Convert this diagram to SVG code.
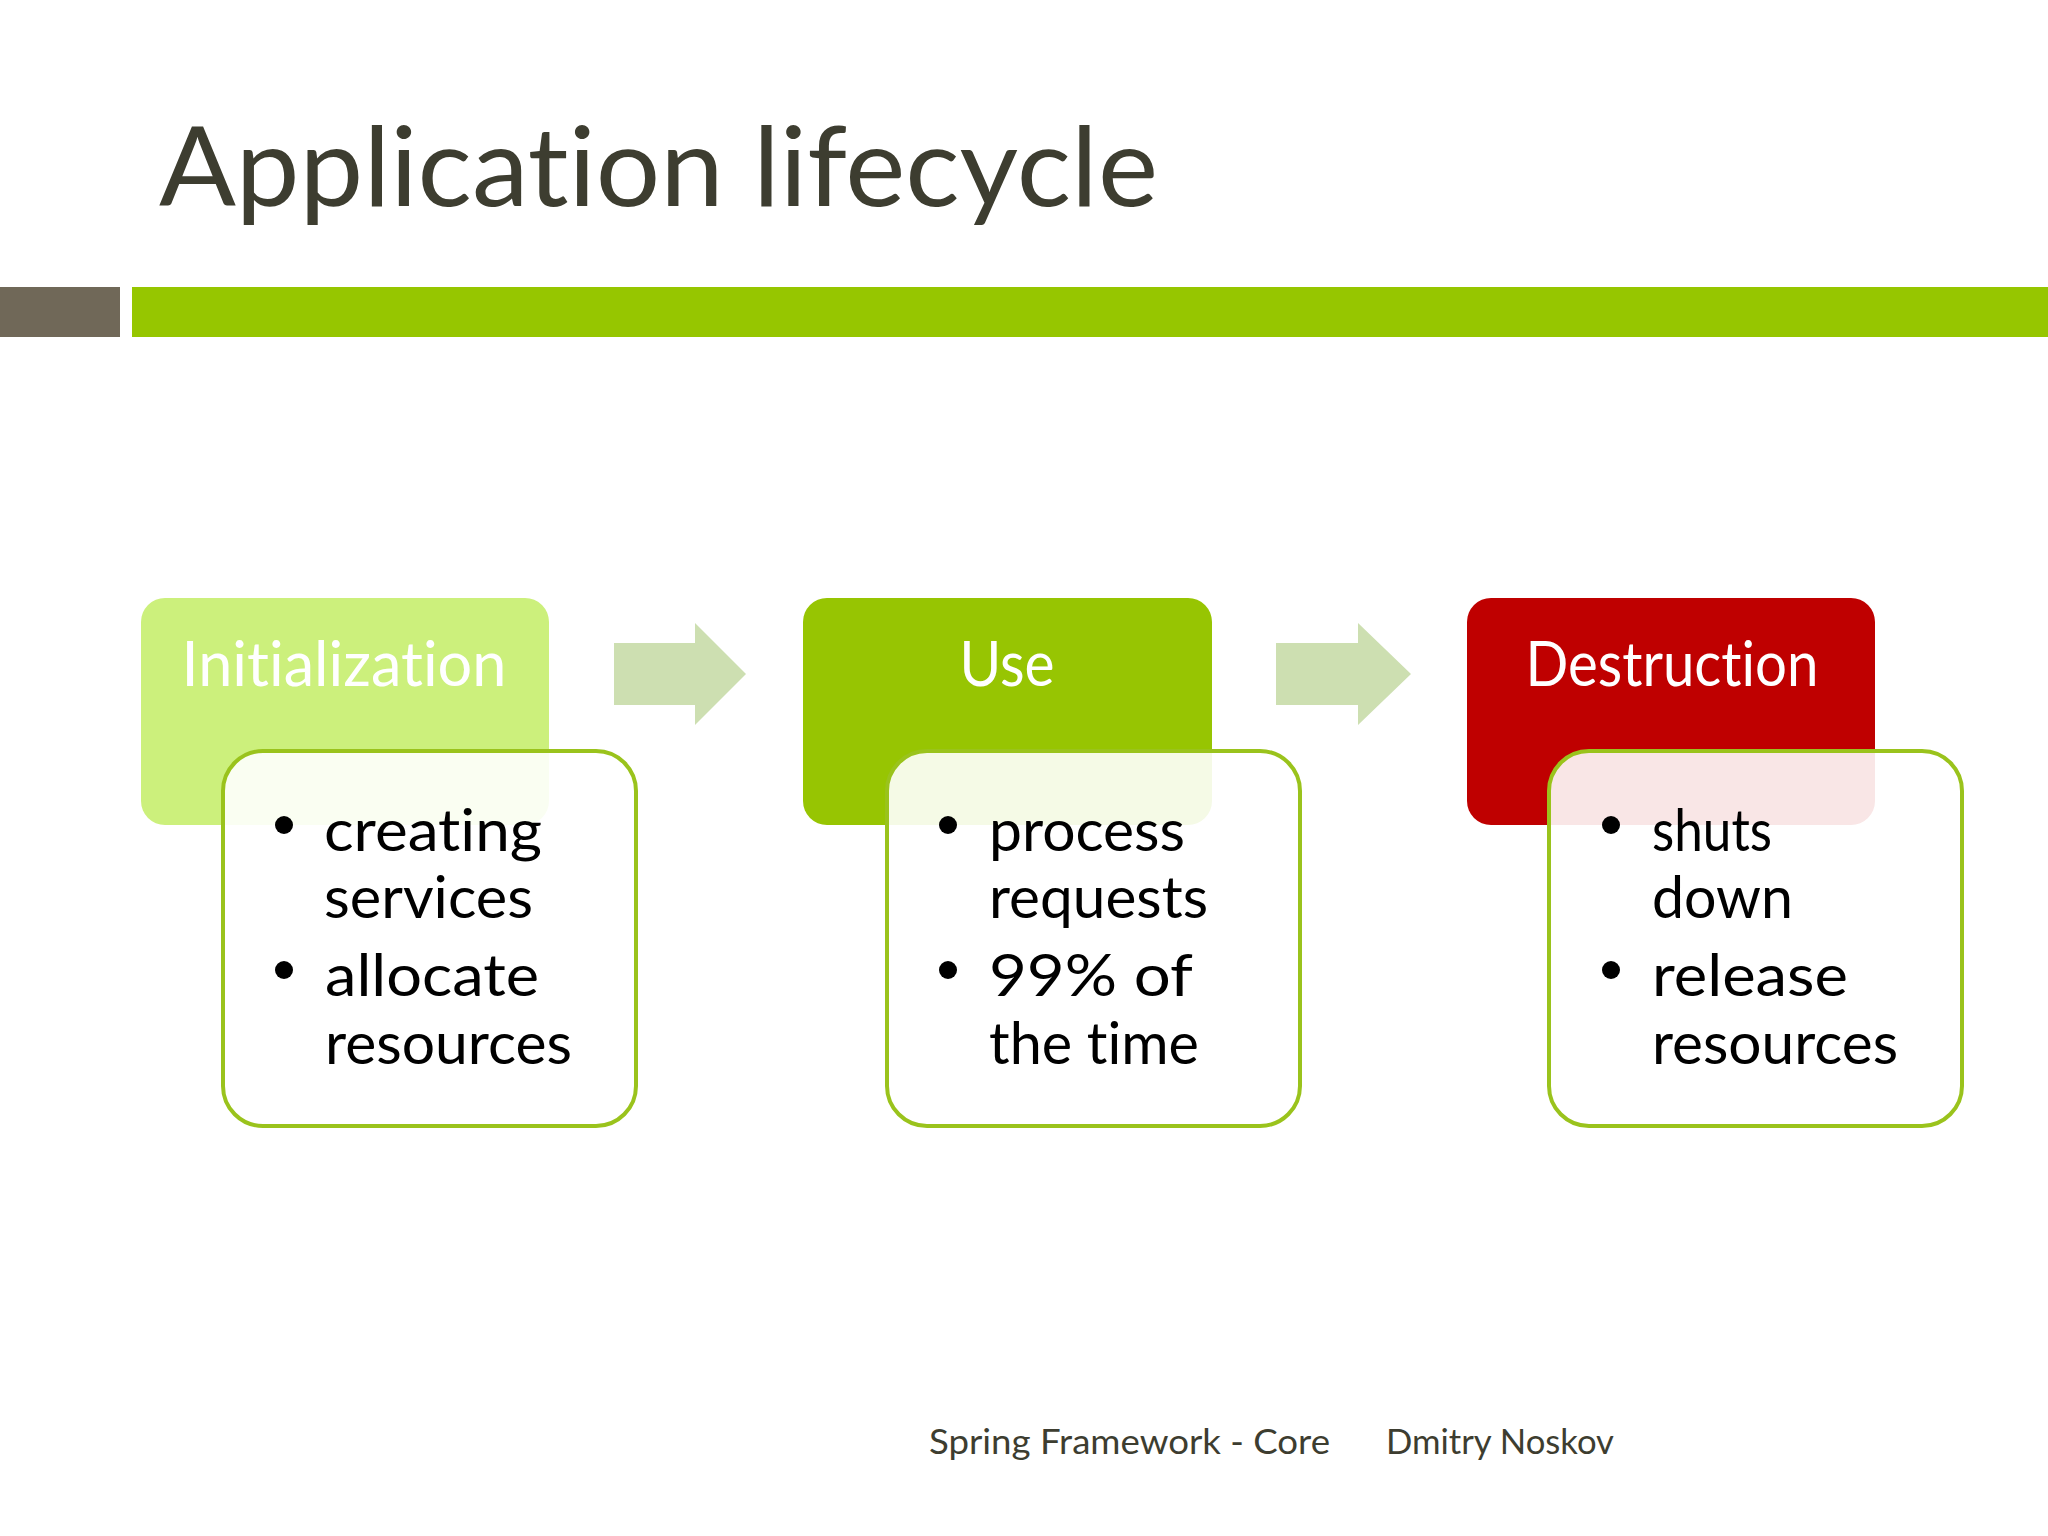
<svg xmlns="http://www.w3.org/2000/svg" width="2048" height="1536" viewBox="0 0 2048 1536">
<defs>
<style>
.t{font-family:Lato,"Noto Sans","Liberation Sans",sans-serif;font-variant-ligatures:none;font-feature-settings:"liga" 0,"clig" 0}
.title{font-size:110px;fill:#3d3d30}
.hdr{font-size:62px;fill:#ffffff;text-anchor:middle}
.bul{font-size:58px;fill:#000000}
.foot{font-size:35px;fill:#3d3d30}
.card{fill:#ffffff;fill-opacity:0.9;stroke:#9ac31c;stroke-width:4}
.arrow{fill:#cddfb1}
.dot{fill:#000000}
</style>
</defs>
<rect x="0" y="0" width="2048" height="1536" fill="#ffffff"/>
<g id="title">
<text class="t title" x="159" y="206" textLength="999" lengthAdjust="spacingAndGlyphs">Application lifecycle</text>
</g>
<g id="bars">
<rect x="0" y="287" width="120" height="50" fill="#706858"/>
<rect x="132" y="287" width="1916" height="50" fill="#96c600"/>
</g>
<g id="connectors">
<polygon class="arrow" points="614,643 695,643 695,623 746,674 695,725 695,705 614,705"/>
<polygon class="arrow" points="1276,643 1358,643 1358,623 1411,674 1358,725 1358,705 1276,705"/>
</g>
<g id="node-initialization">
<rect x="141" y="598" width="408" height="227" rx="24" fill="#ccf07c"/>
<text class="t hdr" x="344" y="686" textLength="325" lengthAdjust="spacingAndGlyphs">Initialization</text>
<rect class="card" x="223" y="751" width="413" height="375" rx="40"/>
<circle class="dot" cx="284" cy="825" r="9"/>
<text class="t bul" x="324" y="851" textLength="218" lengthAdjust="spacingAndGlyphs">creating</text>
<text class="t bul" x="324" y="918" textLength="209" lengthAdjust="spacingAndGlyphs">services</text>
<circle class="dot" cx="284" cy="970" r="9"/>
<text class="t bul" x="325" y="996" textLength="214" lengthAdjust="spacingAndGlyphs">allocate</text>
<text class="t bul" x="325" y="1064" textLength="247" lengthAdjust="spacingAndGlyphs">resources</text>
</g>
<g id="node-use">
<rect x="803" y="598" width="409" height="227" rx="24" fill="#97c502"/>
<text class="t hdr" x="1007" y="686" textLength="95" lengthAdjust="spacingAndGlyphs">Use</text>
<rect class="card" x="887" y="751" width="413" height="375" rx="40"/>
<circle class="dot" cx="948" cy="825" r="9"/>
<text class="t bul" x="989" y="851" textLength="196" lengthAdjust="spacingAndGlyphs">process</text>
<text class="t bul" x="989" y="918" textLength="219" lengthAdjust="spacingAndGlyphs">requests</text>
<circle class="dot" cx="948" cy="970" r="9"/>
<text class="t bul" x="989" y="996" textLength="204" lengthAdjust="spacingAndGlyphs">99% of</text>
<text class="t bul" x="989" y="1064" textLength="210" lengthAdjust="spacingAndGlyphs">the time</text>
</g>
<g id="node-destruction">
<rect x="1467" y="598" width="408" height="227" rx="24" fill="#bf0000"/>
<text class="t hdr" x="1672" y="686" textLength="293" lengthAdjust="spacingAndGlyphs">Destruction</text>
<rect class="card" x="1549" y="751" width="413" height="375" rx="40"/>
<circle class="dot" cx="1611" cy="825" r="9"/>
<text class="t bul" x="1652" y="851" textLength="120" lengthAdjust="spacingAndGlyphs">shuts</text>
<text class="t bul" x="1652" y="918" textLength="141" lengthAdjust="spacingAndGlyphs">down</text>
<circle class="dot" cx="1611" cy="970" r="9"/>
<text class="t bul" x="1652" y="996" textLength="196" lengthAdjust="spacingAndGlyphs">release</text>
<text class="t bul" x="1652" y="1064" textLength="246" lengthAdjust="spacingAndGlyphs">resources</text>
</g>
<g id="footer">
<text class="t foot" x="929" y="1454" textLength="401" lengthAdjust="spacingAndGlyphs">Spring Framework - Core</text>
<text class="t foot" x="1386" y="1454" textLength="228" lengthAdjust="spacingAndGlyphs">Dmitry Noskov</text>
</g>
</svg>
